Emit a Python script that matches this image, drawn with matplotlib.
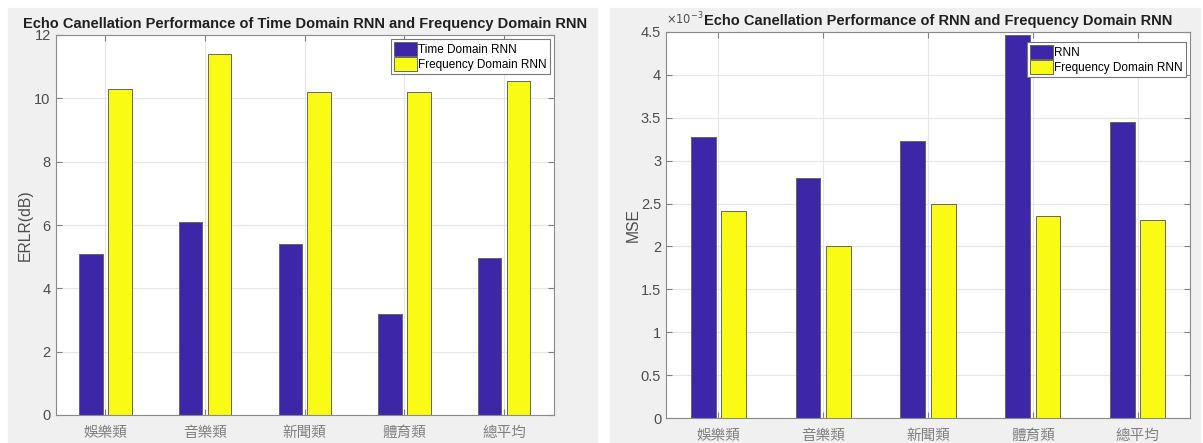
import matplotlib.pyplot as plt
import numpy as np
from matplotlib.patches import Rectangle

categories = ['娛樂類', '音樂類', '新聞類', '體育類', '總平均']
erlr_time = [5.1, 6.1, 5.4, 3.2, 4.95]
erlr_freq = [10.3, 11.4, 10.2, 10.2, 10.55]
mse_rnn = [3.28e-3, 2.80e-3, 3.23e-3, 4.47e-3, 3.45e-3]
mse_freq = [2.41e-3, 2.01e-3, 2.49e-3, 2.35e-3, 2.31e-3]
mse_ticks = ['0', '0.5', '1', '1.5', '2', '2.5', '3', '3.5', '4', '4.5']

blue = '#3d26a8'
yellow = '#f9fb15'
txt = '#4d4d4d'
sans = ['Liberation Sans', 'DejaVu Sans']
cjk = ['Noto Sans CJK TC', 'DejaVu Sans']

fig = plt.figure(figsize=(12.03, 4.43), dpi=100)
fig.patches.append(Rectangle((8 / 1203, 0), 589 / 1203, 1 - 8 / 443,
                             transform=fig.transFigure, color='#f0f0f0', zorder=-10))
fig.patches.append(Rectangle((610 / 1203, 0), 590 / 1203, 1 - 8 / 443,
                             transform=fig.transFigure, color='#f0f0f0', zorder=-10))

ax1 = fig.add_axes([55.5 / 1203, 1 - 415 / 443, 498.5 / 1203, 380 / 443])
ax2 = fig.add_axes([666 / 1203, 1 - 418 / 443, 524 / 1203, 386 / 443])

x = np.arange(1, 6)
w = 0.235
off = 0.145


def style(ax, ylabel, title, lpad):
    ax.set_xlim(0.5, 5.5)
    ax.set_xticks(x)
    ax.set_xticklabels(categories, family=cjk, fontsize=10.5, color='#808080')
    ax.grid(True, color='#e6e6e6', linewidth=0.8)
    ax.set_axisbelow(True)
    ax.tick_params(direction='in', top=True, right=True, colors='#808080',
                   labelcolor=txt, labelsize=10.5, length=4)
    ax.tick_params(axis='x', labelcolor='#808080', pad=8)
    for lab in ax.get_yticklabels():
        lab.set_family(sans)
    for s in ax.spines.values():
        s.set_color('#8a8a8a')
    ax.set_ylabel(ylabel, fontsize=11.3, color=txt, family=sans, labelpad=lpad)
    ax.set_title(title, fontsize=10.5, fontweight='bold', family=sans, color='#202020', pad=5)


def legend(ax, anchor):
    leg = ax.legend(loc='upper right', prop={'family': sans, 'size': 8.5}, fancybox=False,
                    edgecolor='#777777', framealpha=1, borderaxespad=0.35, handlelength=1.9,
                    handleheight=1.45, handletextpad=0.15, borderpad=0.25, labelspacing=0.1,
                    bbox_to_anchor=anchor)
    leg.get_frame().set_linewidth(0.8)


ax1.bar(x - off, erlr_time, w, color=blue, edgecolor='#666666', linewidth=0.7, label='Time Domain RNN')
ax1.bar(x + off, erlr_freq, w, color=yellow, edgecolor='#666666', linewidth=0.7, label='Frequency Domain RNN')
ax1.set_ylim(0, 12)
ax1.set_yticks(np.arange(0, 13, 2))
style(ax1, 'ERLR(dB)', 'Echo Canellation Performance of Time Domain RNN and Frequency Domain RNN', 1)
legend(ax1, (1.0, 1.0))

ax2.bar(x - off, mse_rnn, w, color=blue, edgecolor='#666666', linewidth=0.7, label='RNN')
ax2.bar(x + off, mse_freq, w, color=yellow, edgecolor='#666666', linewidth=0.7, label='Frequency Domain RNN')
ax2.set_ylim(0, 4.5e-3)
ax2.set_yticks(np.arange(0, 4.51e-3, 0.5e-3))
ax2.set_yticklabels(mse_ticks)
ax2.text(0.0, 1.012, r'$\times10^{-3}$', transform=ax2.transAxes, fontsize=8.3, color=txt,
         ha='left', va='bottom')
style(ax2, 'MSE', 'Echo Canellation Performance of RNN and Frequency Domain RNN', 0)
ax2.title.set_position((0.52, 1.0))
legend(ax2, (1.0, 0.985))

fig.savefig('out.png', dpi=100)
